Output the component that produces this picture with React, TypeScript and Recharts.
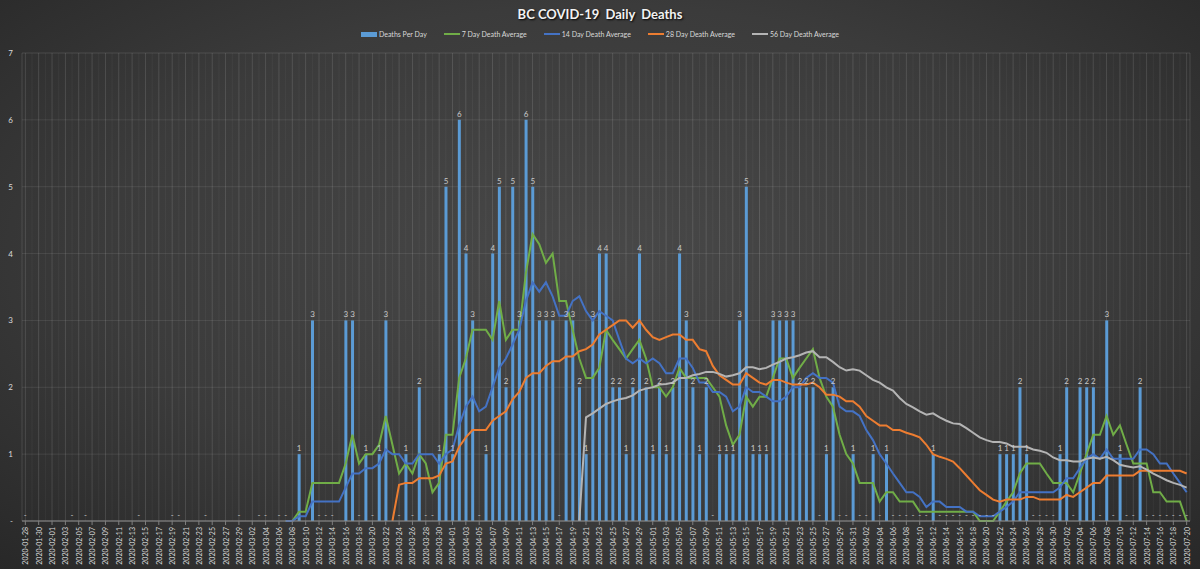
import React from 'react';
import { ComposedChart, Bar, Line, XAxis, YAxis, CartesianGrid, LabelList } from 'recharts';

const FONT = 'Lato, "Open Sans", sans-serif';

// one row per day, 2020-01-28 .. 2020-07-20
const firstDay = '2020-01-28';
const dayCount = 175;

// null = no entry that day (no label in the source)
const deathsPerDay = [
  0, null, null, null, null, null, null, 0, null, 0,
  null, null, null, null, null, null, null, 0, null, null,
  null, null, 0, 0, null, null, null, 0, null, null,
  null, null, 0, null, null, 0, 0, null, 0, 0,
  null, 1, null, 3, 0, 0, 0, null, 3, 3,
  0, 1, 0, 1, 3, null, 0, 1, 0, 2,
  0, 0, 1, 5, 1, 6, 4, 3, 0, 1,
  4, 5, 2, 5, 3, 6, 5, 3, 3, 3,
  0, 3, 3, 2, 1, 3, 4, 4, 2, 2,
  1, 2, 4, 2, 1, 2, 1, 2, 4, 3,
  2, 1, 2, 0, 1, 1, 1, 3, 5, 1,
  1, 1, 3, 3, 3, 3, 2, 2, 2, 0,
  1, 2, 0, 0, 1, 0, 0, 1, 0, 1,
  0, 0, 0, 0, 0, 0, 1, 0, 0, 0,
  0, 0, 0, 0, 0, 0, 1, 1, 1, 2,
  1, 0, 0, 0, 0, 1, 2, 0, 2, 2,
  2, 0, 3, 0, 1, 0, 0, 2, 0, 0,
  0, 0, 0, 0, 0,
];

const avg7Start = '2020-03-07';
const avg7 = [
  0, 0, 0.14, 0.14, 0.57, 0.57, 0.57, 0.57, 0.57, 0.86,
  1.29, 0.86, 1, 1, 1.14, 1.57, 1.14, 0.71, 0.86, 0.71,
  1, 0.86, 0.43, 0.57, 1.29, 1.29, 2.14, 2.43, 2.86, 2.86,
  2.86, 2.71, 3.29, 2.71, 2.86, 2.86, 3.71, 4.29, 4.14, 3.86,
  4, 3.29, 3.29, 2.86, 2.43, 2.14, 2.14, 2.29, 2.86, 2.71,
  2.57, 2.43, 2.57, 2.71, 2.43, 2, 2, 1.86, 2, 2.29,
  2.14, 2.14, 2.14, 2.14, 2, 1.86, 1.43, 1.14, 1.29, 1.86,
  1.71, 1.86, 1.86, 2.14, 2.43, 2.43, 2.14, 2.29, 2.43, 2.57,
  2.14, 1.86, 1.71, 1.29, 1, 0.86, 0.57, 0.57, 0.57, 0.29,
  0.43, 0.43, 0.29, 0.29, 0.29, 0.14, 0.14, 0.14, 0.14, 0.14,
  0.14, 0.14, 0.14, 0.14, 0, 0, 0, 0.14, 0.29, 0.43,
  0.71, 0.86, 0.86, 0.86, 0.71, 0.57, 0.57, 0.57, 0.43, 0.71,
  1, 1.29, 1.29, 1.57, 1.29, 1.43, 1.14, 0.86, 0.86, 0.86,
  0.43, 0.43, 0.29, 0.29, 0.29, 0,
];

const avg14Start = '2020-03-07';
const avg14 = [
  0, 0, 0.07, 0.07, 0.29, 0.29, 0.29, 0.29, 0.29, 0.5,
  0.71, 0.71, 0.79, 0.79, 0.86, 1.07, 1, 1, 0.86, 0.86,
  1, 1, 1, 0.86, 1, 1.07, 1.43, 1.71, 1.86, 1.64,
  1.71, 2, 2.29, 2.43, 2.64, 2.86, 3.29, 3.57, 3.43, 3.57,
  3.36, 3.07, 3.07, 3.29, 3.36, 3.14, 3, 3.14, 3.07, 3,
  2.71, 2.43, 2.36, 2.43, 2.36, 2.43, 2.36, 2.21, 2.21, 2.43,
  2.43, 2.29, 2.07, 2.07, 1.93, 1.93, 1.86, 1.64, 1.71, 2,
  1.93, 1.93, 1.86, 1.79, 1.79, 1.86, 2, 2, 2.14, 2.21,
  2.14, 2.14, 2.07, 1.71, 1.64, 1.64, 1.57, 1.36, 1.21, 1,
  0.86, 0.71, 0.57, 0.43, 0.43, 0.36, 0.21, 0.29, 0.29, 0.21,
  0.21, 0.21, 0.14, 0.14, 0.07, 0.07, 0.07, 0.14, 0.21, 0.29,
  0.43, 0.43, 0.43, 0.43, 0.43, 0.43, 0.5, 0.64, 0.64, 0.79,
  0.93, 1, 0.93, 1.07, 0.93, 0.93, 0.93, 0.93, 1.07, 1.07,
  1, 0.86, 0.86, 0.71, 0.57, 0.43,
];

const avg28Start = '2020-03-23';
const avg28 = [
  0, 0.54, 0.57, 0.57, 0.64, 0.64, 0.64, 0.68, 0.86, 0.89,
  1.11, 1.25, 1.36, 1.36, 1.36, 1.5, 1.57, 1.64, 1.82, 1.93,
  2.14, 2.21, 2.21, 2.32, 2.39, 2.39, 2.46, 2.46, 2.54, 2.57,
  2.64, 2.79, 2.86, 2.93, 3, 3, 2.89, 3, 2.86, 2.75,
  2.71, 2.75, 2.79, 2.79, 2.71, 2.71, 2.57, 2.54, 2.32, 2.18,
  2.11, 2.04, 2.04, 2.21, 2.14, 2.07, 2.04, 2.11, 2.11, 2.07,
  2.04, 2.04, 2.04, 2.07, 2, 1.89, 1.89, 1.86, 1.79, 1.79,
  1.71, 1.57, 1.5, 1.43, 1.43, 1.36, 1.36, 1.32, 1.29, 1.25,
  1.14, 1, 0.96, 0.93, 0.89, 0.79, 0.68, 0.57, 0.46, 0.39,
  0.32, 0.29, 0.32, 0.32, 0.32, 0.36, 0.36, 0.32, 0.32, 0.32,
  0.32, 0.39, 0.36, 0.43, 0.5, 0.57, 0.57, 0.68, 0.68, 0.68,
  0.68, 0.68, 0.75, 0.75, 0.75, 0.75, 0.75, 0.75, 0.75, 0.71,
];

const avg56Start = '2020-04-20';
const avg56 = [
  0, 1.55, 1.61, 1.68, 1.75, 1.79, 1.82, 1.84, 1.88, 1.95,
  1.98, 2, 2.04, 2.05, 2.07, 2.14, 2.14, 2.18, 2.2, 2.23,
  2.23, 2.2, 2.16, 2.18, 2.21, 2.3, 2.3, 2.27, 2.29, 2.34,
  2.38, 2.43, 2.45, 2.48, 2.52, 2.54, 2.45, 2.45, 2.38, 2.3,
  2.25, 2.27, 2.25, 2.18, 2.11, 2.07, 2, 1.95, 1.84, 1.75,
  1.7, 1.64, 1.59, 1.61, 1.55, 1.5, 1.46, 1.45, 1.39, 1.32,
  1.25, 1.21, 1.18, 1.18, 1.16, 1.11, 1.11, 1.11, 1.07, 1.05,
  1.02, 0.95, 0.91, 0.91, 0.89, 0.89, 0.93, 0.95, 0.93, 0.96,
  0.91, 0.84, 0.82, 0.8, 0.82, 0.77, 0.71, 0.66, 0.61, 0.57,
  0.54, 0.5,
];

const yTicks = [0, 1, 2, 3, 4, 5, 6, 7];
const yMinorTicks = Array.from({ length: 36 }, (_, i) => Math.round(i * 2) / 10);

const series = [
  { key: 'avg7', name: '7 Day Death Average', color: '#70AD47' },
  { key: 'avg14', name: '14 Day Death Average', color: '#4472C4' },
  { key: 'avg28', name: '28 Day Death Average', color: '#ED7D31' },
  { key: 'avg56', name: '56 Day Death Average', color: '#B4B4B4' },
];

const dates: string[] = Array.from({ length: dayCount }, (_, i) => {
  const d = new Date(firstDay + 'T00:00:00Z');
  d.setUTCDate(d.getUTCDate() + i);
  return d.toISOString().slice(0, 10);
});

const pick = (arr: number[], start: string, i: number) => {
  const j = i - dates.indexOf(start);
  return j >= 0 && j < arr.length ? arr[j] : null;
};

const data = dates.map((date, i) => ({
  date,
  deaths: deathsPerDay[i],
  // zero days get a "-" label like Excel's accounting format
  zeroDay: deathsPerDay[i] === 0 ? 0 : null,
  avg7: pick(avg7, avg7Start, i),
  avg14: pick(avg14, avg14Start, i),
  avg28: pick(avg28, avg28Start, i),
  avg56: pick(avg56, avg56Start, i),
}));

const DateTick = ({ x, y, payload }: any) => (
  <text
    x={x}
    y={y}
    transform={`rotate(-90 ${x} ${y})`}
    textAnchor="end"
    dominantBaseline="central"
    fill="#d9d9d9"
    fontSize={7}
    fontFamily={FONT}
  >
    {payload.value}
  </text>
);

const ValueTick = ({ y, payload }: any) => (
  <text
    x={13}
    y={y}
    textAnchor="end"
    dominantBaseline="central"
    fill="#d9d9d9"
    fontSize={8}
    fontFamily={FONT}
  >
    {payload.value === 0 ? '-' : payload.value}
  </text>
);

const LegendBar = () => (
  <div style={{ display: 'flex', justifyContent: 'center', alignItems: 'center', gap: 17 }}>
    <div style={{ display: 'flex', alignItems: 'center', gap: 2 }}>
      <span style={{ width: 16, height: 5, background: '#5B9BD5', display: 'inline-block' }} />
      <span>Deaths Per Day</span>
    </div>
    {series.map((s) => (
      <div key={s.key} style={{ display: 'flex', alignItems: 'center', gap: 2 }}>
        <span style={{ width: 16, height: 2, background: s.color, display: 'inline-block' }} />
        <span>{s.name}</span>
      </div>
    ))}
  </div>
);

export default function App() {
  return (
    <div
      style={{
        position: 'absolute',
        left: 0,
        top: 0,
        width: 1200,
        height: 569,
        overflow: 'hidden',
        background: 'radial-gradient(ellipse 75% 80% at 50% 45%, #484848 0%, #3b3b3b 55%, #262626 100%)',
        fontFamily: FONT,
      }}
    >
      <div
        style={{
          position: 'absolute',
          top: 6,
          width: '100%',
          textAlign: 'center',
          color: '#f2f2f2',
          fontSize: 13,
          fontWeight: 700,
          whiteSpace: 'pre',
          textShadow: '1px 1px 2px #000',
        }}
      >
        {'BC COVID-19  Daily  Deaths'}
      </div>
      <div style={{ position: 'absolute', top: 30, width: '100%', color: '#d9d9d9', fontSize: 7 }}>
        <LegendBar />
      </div>
      <ComposedChart
        width={1200}
        height={569}
        data={data}
        margin={{ top: 53, right: 10, bottom: 0, left: 0 }}
        barCategoryGap={0}
      >
        <XAxis xAxisId="minor" dataKey="date" interval={0} hide />
        <YAxis yAxisId="minor" domain={[0, 7]} ticks={yMinorTicks} hide />
        <CartesianGrid xAxisId="minor" yAxisId="minor" stroke="rgba(255,255,255,0.045)" />
        <CartesianGrid stroke="rgba(255,255,255,0.09)" />
        <XAxis
          dataKey="date"
          interval={1}
          height={48}
          tick={<DateTick />}
          tickSize={4}
          tickLine={{ stroke: '#7f7f7f' }}
          axisLine={{ stroke: '#8c8c8c' }}
        />
        <YAxis
          domain={[0, 7]}
          ticks={yTicks}
          width={22}
          axisLine={false}
          tickLine={false}
          tick={<ValueTick />}
        />
        <Bar dataKey="deaths" name="Deaths Per Day" fill="#5B9BD5" barSize={3} isAnimationActive={false}>
          <LabelList
            dataKey="deaths"
            position="top"
            offset={3}
            fill="#c8c8c8"
            fontSize={8}
            fontFamily={FONT}
            formatter={(v: any) => (v ? v : '')}
          />
        </Bar>
        <Line
          dataKey="zeroDay"
          stroke="none"
          dot={false}
          activeDot={false}
          legendType="none"
          isAnimationActive={false}
        >
          <LabelList
            dataKey="zeroDay"
            position="top"
            offset={3}
            fill="#c8c8c8"
            fontSize={8}
            fontFamily={FONT}
            formatter={() => '-'}
          />
        </Line>
        {series.map((s) => (
          <Line
            key={s.key}
            type="linear"
            dataKey={s.key}
            name={s.name}
            stroke={s.color}
            strokeWidth={2}
            dot={false}
            activeDot={false}
            isAnimationActive={false}
          />
        ))}
      </ComposedChart>
    </div>
  );
}
